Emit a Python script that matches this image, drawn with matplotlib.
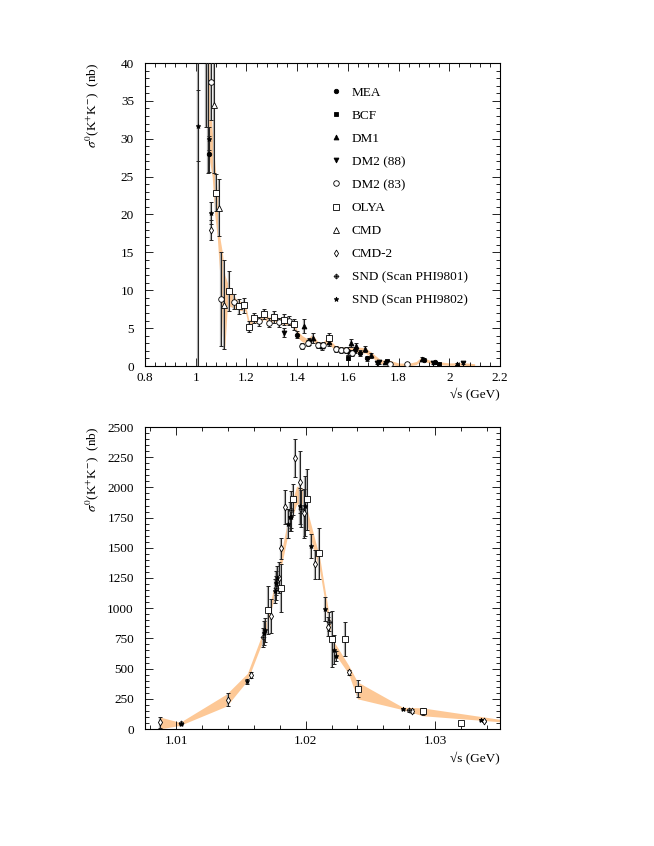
import numpy as np
import matplotlib
matplotlib.use('Agg')
import matplotlib.pyplot as plt
from matplotlib.path import Path
from matplotlib.ticker import MultipleLocator

plt.rcParams['font.family'] = ['Liberation Serif', 'DejaVu Serif']
plt.rcParams['mathtext.fontset'] = 'stix'
plt.rcParams['font.size'] = 9.5

# ---- top panel: sigma vs sqrt(s), wide range (x, y, err) ----
top_mea = [(1.052, 28.0, 2.4), (1.400, 4.15, 0.5), (1.447, 3.25, 0.5), (1.602, 1.95, 0.5),
           (1.630, 2.1, 0.4), (1.648, 1.75, 0.4), (1.675, 1.0, 0.3), (1.902, 0.85, 0.2),
           (1.944, 0.5, 0.2)]
top_bcf = [(1.602, 1.1, 0.3), (1.753, 0.6, 0.2), (1.961, 0.3, 0.15)]
top_dm1 = [(1.426, 5.3, 0.9), (1.464, 3.7, 0.6), (1.499, 2.6, 0.5), (1.526, 3.2, 0.5),
           (1.611, 3.0, 0.5), (1.631, 2.6, 0.4), (1.669, 2.3, 0.4), (1.693, 1.4, 0.3),
           (1.746, 0.5, 0.2), (1.891, 0.95, 0.2), (2.029, 0.3, 0.15)]
top_dm2_88 = [(1.350, 4.4, 0.6), (1.716, 0.45, 0.2), (1.721, 0.5, 0.2), (1.937, 0.45, 0.2),
              (2.053, 0.4, 0.15)]
top_dm2_83 = [(1.060, 37.5, 5.0), (1.100, 8.9, 6.2), (1.152, 8.5, 1.0), (1.251, 5.9, 0.6),
              (1.290, 5.7, 0.6), (1.330, 5.8, 0.6), (1.369, 5.95, 0.6), (1.421, 2.7, 0.4),
              (1.441, 3.0, 0.4), (1.481, 2.8, 0.4), (1.503, 2.8, 0.4), (1.553, 2.2, 0.4),
              (1.574, 2.15, 0.4), (1.591, 2.15, 0.4), (1.615, 1.7, 0.4), (1.766, 0.3, 0.2),
              (1.832, 0.2, 0.15)]
top_olya = [(1.080, 22.9, 2.5), (1.131, 9.9, 2.7), (1.172, 7.9, 1.0), (1.192, 8.0, 1.0),
            (1.211, 5.2, 0.7), (1.231, 6.35, 0.7), (1.271, 6.85, 0.7), (1.310, 6.5, 0.8),
            (1.350, 6.1, 0.7), (1.389, 5.5, 0.7), (1.526, 3.7, 0.6)]
top_cmd = [(1.072, 34.5, 9.0), (1.090, 20.9, 3.8), (1.111, 8.1, 5.9)]
top_cmd2 = [(1.060, 17.95, 1.3)]
top_snd1 = [(1.040, 41.0, 9.5), (1.047, 44.0, 18.5)]
top_snd2 = [(1.0095, 45.0, 50.0), (1.0095, 31.7, 4.7), (1.052, 30.0, 1.5), (1.060, 20.2, 1.5)]

# band (fit result) for the top panel
band_top_x = [1.035, 1.045, 1.055, 1.065, 1.075, 1.085, 1.095, 1.105, 1.115, 1.125, 1.14,
              1.16, 1.18, 1.195, 1.21, 1.23, 1.25, 1.27, 1.29, 1.31, 1.33, 1.35, 1.37, 1.39,
              1.40, 1.42, 1.44, 1.46, 1.48, 1.50, 1.52, 1.55, 1.58, 1.61, 1.64, 1.67, 1.70,
              1.73, 1.76, 1.80, 1.84, 1.87, 1.89, 1.92, 1.95, 2.00, 2.05, 2.10]
band_top_lo = [40, 33, 27, 25, 20, 17, 12, 4, 2.5, 8, 7.8, 7.5, 7.3, 7.3, 5.0, 5.8, 5.6, 6.2,
               5.6, 5.9, 5.5, 5.5, 5.4, 4.9, 3.8, 3.2, 3.0, 3.4, 2.7, 2.6, 3.0, 2.1, 1.9, 1.9,
               1.8, 1.7, 1.0, 0.3, 0.3, 0.0, 0.0, 0.2, 0.7, 0.4, 0.2, 0.1, 0.1, 0.0]
band_top_hi = [60, 48, 37, 31, 27, 23, 17, 15, 12, 11, 10, 8.8, 8.5, 8.3, 6.0, 6.7, 6.4, 7.0,
               6.4, 6.8, 6.3, 6.3, 6.2, 5.7, 4.7, 4.0, 3.6, 4.2, 3.3, 3.1, 3.8, 2.7, 2.5, 2.6,
               2.5, 2.4, 1.6, 0.8, 0.8, 0.4, 0.35, 0.6, 1.2, 0.8, 0.6, 0.4, 0.45, 0.3]

# ---- bottom panel: phi region ----
bot_cmd2 = [(1.00872, 55, 45), (1.01403, 242, 55), (1.01577, 449, 25), (1.01736, 936, 140),
            (1.01795, 1253, 130), (1.01808, 1495, 90), (1.01838, 1839, 140), (1.01915, 2244, 160),
            (1.01954, 2045, 260), (1.01987, 1784, 200), (1.02074, 1363, 120), (1.02172, 848, 80),
            (1.02333, 468, 20), (1.0282, 151, 15), (1.03377, 69, 8)]
bot_olya = [(1.0171, 985, 200), (1.01808, 1170, 200), (1.01903, 1902, 130), (1.0201, 1900, 250),
            (1.02103, 1454, 210), (1.02205, 746, 230), (1.023, 743, 140), (1.02403, 333, 70),
            (1.02903, 146, 30), (1.03197, 50, 10)]
bot_snd1 = [(1.01036, 50, 10), (1.01672, 760, 80), (1.01769, 1164, 100), (1.01885, 1817, 150),
            (1.01967, 1825, 150), (1.0218, 889, 80), (1.028, 154, 15)]
bot_snd2 = [(1.01036, 40, 8), (1.01549, 394, 20), (1.0168, 793, 100), (1.01685, 820, 100),
            (1.01762, 1142, 100), (1.01774, 1206, 100), (1.01782, 1253, 100), (1.01864, 1700, 120),
            (1.01877, 1756, 120), (1.0189, 1756, 120), (1.01954, 1844, 150), (1.01992, 1844, 250),
            (1.02044, 1517, 100), (1.02146, 994, 100), (1.02215, 655, 120), (1.02231, 606, 40),
            (1.02749, 168, 8), (1.03351, 77, 8)]

band_bot_x = [1.00872, 1.0103, 1.0139, 1.0155, 1.0168, 1.0178, 1.0188, 1.0193, 1.0197, 1.0202,
              1.0211, 1.0218, 1.0222, 1.0233, 1.0240, 1.0275, 1.0290, 1.0350]
band_bot_lo = [0, 30, 190, 400, 760, 1180, 1700, 1860, 1870, 1650, 1300, 860, 630, 460, 250,
               160, 110, 60]
band_bot_hi = [100, 55, 290, 460, 830, 1290, 1830, 2010, 2000, 1780, 1410, 950, 720, 530, 390,
               180, 175, 80]

# SND PHI9801 marker: diamond with a cross inside
snd_marker = Path([(0, 1), (1, 0), (0, -1), (-1, 0), (0, 1), (0, 0.6), (0, -0.6), (0.6, 0), (-0.6, 0)],
                  [Path.MOVETO, Path.LINETO, Path.LINETO, Path.LINETO, Path.CLOSEPOLY,
                   Path.MOVETO, Path.LINETO, Path.MOVETO, Path.LINETO])

styles = {
    'MEA': dict(marker='o', mfc='k', ms=3.2),
    'BCF': dict(marker='s', mfc='k', ms=3.2),
    'DM1': dict(marker='^', mfc='k', ms=3.5),
    'DM2 (88)': dict(marker='v', mfc='k', ms=3.5),
    'DM2 (83)': dict(marker='o', mfc='white', ms=4),
    'OLYA': dict(marker='s', mfc='white', ms=4),
    'CMD': dict(marker='^', mfc='white', ms=4),
    'CMD-2': dict(marker='d', mfc='white', ms=3.5),
    'SND (Scan PHI9801)': dict(marker=snd_marker, mfc='white', ms=3.5),
    'SND (Scan PHI9802)': dict(marker='*', mfc='k', ms=3.5),
}
band_color = '#fdc896'


def draw(ax, pts, name, legend=True):
    if not pts:
        return
    a = np.array(pts, dtype=float)
    st = styles[name]
    ax.errorbar(a[:, 0], a[:, 1], yerr=a[:, 2], fmt='none', ecolor='#aaaaaa', elinewidth=1.6,
                capsize=0, zorder=2)
    ax.errorbar(a[:, 0], a[:, 1], yerr=a[:, 2], fmt='none', ecolor='#222222', elinewidth=0.7,
                capsize=1.6, capthick=0.7, zorder=3)
    ax.plot(a[:, 0], a[:, 1], ls='none', marker=st['marker'], ms=st['ms'], mfc=st['mfc'],
            mec='k', mew=0.6, zorder=4, label=name if legend else None)


def style_axes(ax):
    ax.tick_params(which='both', direction='in', top=True, right=True, labelsize=9.5)
    ax.tick_params(which='major', length=6, width=0.6)
    ax.tick_params(which='minor', length=3, width=0.6)
    ax.tick_params(axis='y', pad=8)
    ax.tick_params(axis='x', pad=4)
    for s in ax.spines.values():
        s.set_linewidth(0.8)


fig = plt.figure(figsize=(6.54, 8.46), dpi=100)

# top panel
ax1 = fig.add_axes([145 / 654, 1 - 366 / 846, 355 / 654, 303 / 846])
ax1.fill_between(band_top_x, band_top_lo, band_top_hi, color=band_color, lw=0, zorder=1)
draw(ax1, top_mea, 'MEA')
draw(ax1, top_bcf, 'BCF')
draw(ax1, top_dm1, 'DM1')
draw(ax1, top_dm2_88, 'DM2 (88)')
draw(ax1, top_dm2_83, 'DM2 (83)')
draw(ax1, top_olya, 'OLYA')
draw(ax1, top_cmd, 'CMD')
draw(ax1, top_cmd2, 'CMD-2')
draw(ax1, top_snd1, 'SND (Scan PHI9801)')
draw(ax1, top_snd2, 'SND (Scan PHI9802)')
ax1.set_xlim(0.8, 2.2)
ax1.set_ylim(0, 40)
ax1.xaxis.set_major_locator(MultipleLocator(0.2))
ax1.xaxis.set_minor_locator(MultipleLocator(0.04))
ax1.yaxis.set_major_locator(MultipleLocator(5))
ax1.yaxis.set_minor_locator(MultipleLocator(1))
ax1.xaxis.set_major_formatter(lambda v, p: ('%.1f' % v).rstrip('0').rstrip('.'))
style_axes(ax1)
ax1.set_xlabel('\u221as (GeV)', loc='right', fontsize=9.5)
ax1.xaxis.set_label_coords(1.0, -0.072)
ax1.set_ylabel(r'$\sigma^0$(K$^{+}$K$^{-}$)  (nb)', loc='top', fontsize=9.5)
ax1.yaxis.set_label_coords(-0.124, 1.0)
ax1.legend(loc='upper left', bbox_to_anchor=(0.527, 0.922), frameon=False, fontsize=9.5,
           handlelength=0.6, handletextpad=0.9, labelspacing=0.82, borderpad=0,
           borderaxespad=0, numpoints=1)

# bottom panel
ax2 = fig.add_axes([145 / 654, 1 - 729 / 846, 355 / 654, 302 / 846])
ax2.fill_between(band_bot_x, band_bot_lo, band_bot_hi, color=band_color, lw=0, zorder=1)
draw(ax2, bot_cmd2, 'CMD-2', False)
draw(ax2, bot_olya, 'OLYA', False)
draw(ax2, bot_snd1, 'SND (Scan PHI9801)', False)
draw(ax2, bot_snd2, 'SND (Scan PHI9802)', False)
ax2.set_xlim(1.0076, 1.0350)
ax2.set_ylim(0, 2500)
ax2.xaxis.set_major_locator(MultipleLocator(0.01))
ax2.xaxis.set_minor_locator(MultipleLocator(0.002))
ax2.yaxis.set_major_locator(MultipleLocator(250))
ax2.yaxis.set_minor_locator(MultipleLocator(50))
ax2.xaxis.set_major_formatter(lambda v, p: '%.2f' % v)
style_axes(ax2)
ax2.set_xlabel('\u221as (GeV)', loc='right', fontsize=9.5)
ax2.xaxis.set_label_coords(1.0, -0.076)
ax2.set_ylabel(r'$\sigma^0$(K$^{+}$K$^{-}$)  (nb)', loc='top', fontsize=9.5)
ax2.yaxis.set_label_coords(-0.124, 1.0)

fig.savefig('out.png', dpi=100)
